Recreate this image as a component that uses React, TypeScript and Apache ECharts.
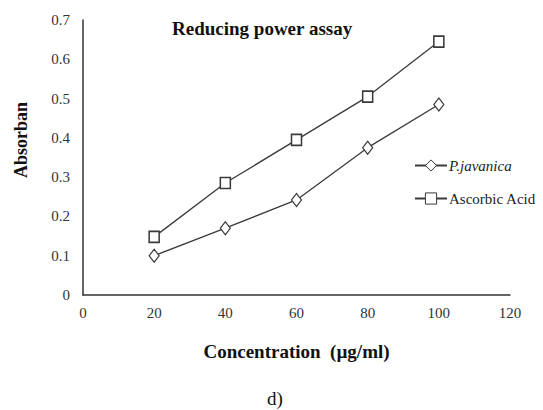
import React, { useEffect, useRef } from "react";
import * as echarts from "echarts";

const concentrations = [20, 40, 60, 80, 100];
const pJavanica = [0.1, 0.17, 0.242, 0.375, 0.485];
const ascorbicAcid = [0.148, 0.285, 0.395, 0.505, 0.645];
const seriesNames = ["P.javanica", "Ascorbic Acid"];
const titleText = "Reducing power assay";
const xAxisName = "Concentration  (µg/ml)";
const yAxisName = "Absorban";
const captionText = "d)";

const FONT = "'Liberation Serif', 'Times New Roman', serif";

export default function App() {
  const ref = useRef<HTMLDivElement>(null);
  useEffect(() => {
    document.body.style.margin = "0";
    if (!ref.current) return;
    const chart = echarts.init(ref.current, undefined, { renderer: "svg" });
    const lineColor = "#3a3a3a";
    const mk = (arr: number[]) => concentrations.map((c, i) => [c, arr[i]]);
    chart.setOption({
      animation: false,
      backgroundColor: "#ffffff",
      title: {
        text: titleText,
        left: 167,
        top: 14,
        textStyle: { fontFamily: FONT, fontWeight: "bold", fontSize: 19, color: "#111" },
      },
      legend: {
        orient: "vertical",
        left: 409,
        top: 153,
        itemGap: 18,
        itemWidth: 32,
        itemHeight: 14,
        itemStyle: { color: "#ffffff", borderColor: lineColor, borderWidth: 1 },
        data: seriesNames,
        formatter: (name: string) => (name === seriesNames[0] ? "{i|" + name + "}" : name),
        textStyle: {
          fontFamily: FONT,
          fontSize: 15,
          color: "#222",
          padding: [0, 0, 0, -3],
          rich: { i: { fontStyle: "italic", fontFamily: FONT, fontSize: 15, color: "#222" } },
        },
      },
      grid: { left: 83, right: 33, top: 20, bottom: 115, containLabel: false },
      xAxis: {
        type: "value",
        min: 0,
        max: 120,
        interval: 20,
        name: xAxisName,
        nameLocation: "middle",
        nameGap: 47,
        nameTextStyle: { fontFamily: FONT, fontWeight: "bold", fontSize: 19, color: "#111" },
        axisLine: { lineStyle: { color: "#333", width: 1.5 } },
        axisTick: { show: false },
        splitLine: { show: false },
        axisLabel: { fontFamily: FONT, fontSize: 15, color: "#333", margin: 10 },
      },
      yAxis: {
        type: "value",
        min: 0,
        max: 0.7,
        interval: 0.1,
        axisLine: { show: true, lineStyle: { color: "#333", width: 1.5 } },
        axisTick: { show: false },
        splitLine: { show: false },
        axisLabel: { fontFamily: FONT, fontSize: 15, color: "#333", margin: 13 },
      },
      series: [
        {
          name: seriesNames[0],
          type: "line",
          data: mk(pJavanica),
          symbol: "diamond",
          symbolSize: [10, 13],
          itemStyle: { color: "#ffffff", borderColor: lineColor, borderWidth: 1.2 },
          lineStyle: { color: lineColor, width: 1.3 },
        },
        {
          name: seriesNames[1],
          type: "line",
          data: mk(ascorbicAcid),
          symbol: "rect",
          symbolSize: [10, 11],
          itemStyle: { color: "#ffffff", borderColor: lineColor, borderWidth: 1.6 },
          lineStyle: { color: lineColor, width: 1.3 },
        },
      ],
      graphic: [
        {
          type: "text",
          x: 21,
          y: 140,
          rotation: Math.PI / 2,
          style: {
            text: yAxisName,
            font: "bold 18px " + FONT,
            fill: "#111",
            align: "center",
            verticalAlign: "middle",
          },
        },
        {
          type: "text",
          x: 275,
          y: 389,
          style: { text: captionText, font: "19px " + FONT, fill: "#111", align: "center" },
        },
      ],
    });
    return () => chart.dispose();
  }, []);
  return <div ref={ref} style={{ width: 543, height: 410 }} />;
}
